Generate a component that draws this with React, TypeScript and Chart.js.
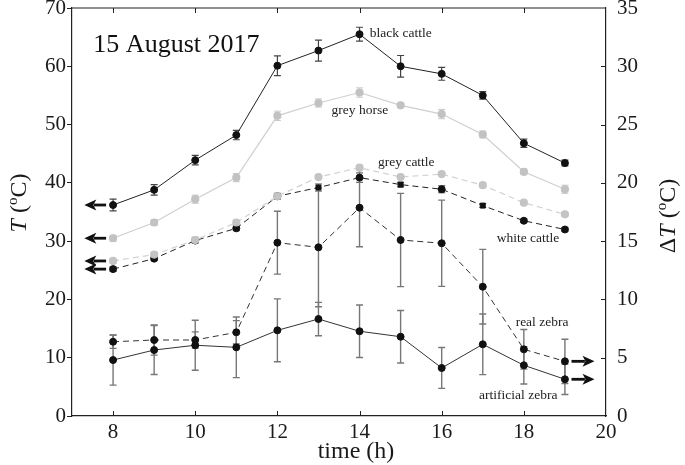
import React, { useEffect, useRef } from 'react';
import { Chart, registerables } from 'chart.js';

Chart.register(...registerables);

// ---- data ----
const hours = [8, 9, 10, 11, 12, 13, 14, 15, 16, 17, 18, 19];

const blackCattle = [36.2, 38.8, 43.9, 48.2, 60.1, 62.7, 65.5, 60.0, 58.7, 55.0, 46.8, 43.4];
const blackCattleErr = [1.0, 0.9, 0.8, 0.8, 1.7, 1.8, 1.2, 1.85, 1.1, 0.65, 0.7, 0.5];

const greyHorse = [30.5, 33.2, 37.2, 40.9, 51.5, 53.7, 55.5, 53.3, 51.8, 48.3, 41.9, 38.9];
const greyHorseErr = [0.5, 0.5, 0.7, 0.7, 0.8, 0.7, 0.8, 0.4, 0.8, 0.6, 0.5, 0.7];

const greyCattle = [26.6, 27.7, 30.2, 33.2, 37.7, 41.0, 42.6, 41.0, 41.5, 39.6, 36.6, 34.6];
const greyCattleErr = [0.4, 0.4, 0.5, 0.4, 0.5, 0.3, 0.4, 0.3, 0.3, 0.3, 0.3, 0.3];

const whiteCattle = [25.2, 27.0, 30.1, 32.2, 37.7, 39.2, 40.9, 39.7, 38.9, 36.1, 33.5, 32.0];
const whiteCattleErr = [0.4, 0.3, 0.4, 0.4, 0.5, 0.6, 0.8, 0.4, 0.6, 0.3, 0.3, 0.3];

// zebra series are read on the right axis (ΔT)
const realZebra = [6.37, 6.52, 6.52, 7.18, 14.87, 14.47, 17.87, 15.1, 14.82, 11.09, 5.72, 4.69];
const realZebraErr = [0.57, 1.3, 0.7, 1.0, 2.7, 5.1, 3.35, 4.0, 3.7, 3.2, 1.7, 1.9];

const artZebra = [4.8, 5.66, 6.07, 5.89, 7.35, 8.32, 7.27, 6.8, 4.12, 6.15, 4.35, 3.15];
const artZebraErr = [2.15, 2.1, 2.15, 2.6, 2.7, 1.43, 2.25, 2.25, 1.75, 2.6, 1.6, 1.3];

const xTicks = [8, 10, 12, 14, 16, 18, 20];
const innerXTicks = [8, 10, 12, 14, 16, 18];
const rightInnerTicks = [5, 10, 15, 20, 25, 30];

// ---- annotation layout (not data) ----
const FONT = '"Liberation Serif", "DejaVu Serif", serif';
const whiteCattleShapes = ['circle', 'circle', 'circle', 'circle', 'circle', 'rect', 'circle', 'rect', 'circle', 'rect', 'circle', 'circle'];

const seriesLabels = [
  { text: 'black cattle', x: 14.25, y: 65.7, axis: 'y' },
  { text: 'grey horse', x: 13.32, y: 52.5, axis: 'y' },
  { text: 'grey cattle', x: 14.45, y: 43.45, axis: 'y' },
  { text: 'white cattle', x: 17.34, y: 30.5, axis: 'y' },
  { text: 'real zebra', x: 17.8, y: 8.05, axis: 'y2' },
  { text: 'artificial zebra', x: 16.91, y: 1.75, axis: 'y2' },
];

const toPts = (vals: number[]) => vals.map((v, i) => ({ x: hours[i], y: v }));

type Part = { text: string; italic?: boolean; sup?: boolean };

function drawRich(ctx: CanvasRenderingContext2D, parts: Part[], size: number, cx: number, cy: number, rot: number) {
  ctx.save();
  ctx.translate(cx, cy);
  ctx.rotate(rot);
  ctx.fillStyle = '#1a1a1a';
  ctx.textBaseline = 'alphabetic';
  ctx.textAlign = 'left';
  const fontFor = (p: Part) => `${p.italic ? 'italic ' : ''}${p.sup ? Math.round(size * 0.62) : size}px ${FONT}`;
  let total = 0;
  const widths = parts.map((p) => {
    ctx.font = fontFor(p);
    const w = ctx.measureText(p.text).width;
    total += w;
    return w;
  });
  let x = -total / 2;
  const base = size * 0.33;
  parts.forEach((p, i) => {
    ctx.font = fontFor(p);
    ctx.fillText(p.text, x, p.sup ? base - size * 0.38 : base);
    x += widths[i];
  });
  ctx.restore();
}

const errorBarsPlugin = {
  id: 'errorBars',
  beforeDatasetsDraw(chart: any) {
    const ctx = chart.ctx as CanvasRenderingContext2D;
    const xs = chart.scales.x;
    chart.data.datasets.forEach((ds: any) => {
      const errs: number[] | undefined = ds.errors;
      if (!errs) return;
      const ys = chart.scales[ds.yAxisID || 'y'];
      ctx.save();
      ctx.strokeStyle = ds.errorColor;
      ctx.lineWidth = ds.errorWidth;
      ctx.setLineDash([]);
      const cap = 3.5;
      ds.data.forEach((p: any, j: number) => {
        const px = xs.getPixelForValue(p.x);
        const y1 = ys.getPixelForValue(p.y + errs[j]);
        const y2 = ys.getPixelForValue(p.y - errs[j]);
        ctx.beginPath();
        ctx.moveTo(px, y1);
        ctx.lineTo(px, y2);
        ctx.moveTo(px - cap, y1);
        ctx.lineTo(px + cap, y1);
        ctx.moveTo(px - cap, y2);
        ctx.lineTo(px + cap, y2);
        ctx.stroke();
      });
      ctx.restore();
    });
  },
};

const decorPlugin = {
  id: 'decor',
  afterDraw(chart: any) {
    const ctx = chart.ctx as CanvasRenderingContext2D;
    const { left, right, top, bottom } = chart.chartArea;
    const xs = chart.scales.x;
    const ys = chart.scales.y;
    const y2s = chart.scales.y2;
    ctx.save();
    ctx.strokeStyle = '#222';
    ctx.lineWidth = 1.2;
    ctx.setLineDash([]);
    // top frame
    ctx.beginPath();
    ctx.moveTo(left, top);
    ctx.lineTo(right, top);
    ctx.stroke();
    // inward ticks top & bottom
    ctx.lineWidth = 1;
    ctx.beginPath();
    innerXTicks.forEach((v) => {
      const px = Math.round(xs.getPixelForValue(v)) + 0.5;
      ctx.moveTo(px, top);
      ctx.lineTo(px, top + 5);
      ctx.moveTo(px, bottom);
      ctx.lineTo(px, bottom - 5);
    });
    rightInnerTicks.forEach((v) => {
      const py = Math.round(y2s.getPixelForValue(v)) + 0.5;
      ctx.moveTo(right, py);
      ctx.lineTo(right - 5, py);
    });
    ctx.stroke();

    // arrows
    const arrow = (x0: number, x1: number, y: number) => {
      const dir = Math.sign(x1 - x0);
      const head = 12;
      ctx.strokeStyle = '#111';
      ctx.fillStyle = '#111';
      ctx.lineWidth = 2.8;
      ctx.beginPath();
      ctx.moveTo(x0, y);
      ctx.lineTo(x1 - dir * head * 0.8, y);
      ctx.stroke();
      ctx.beginPath();
      ctx.moveTo(x1, y);
      ctx.lineTo(x1 - dir * head, y - 5.5);
      ctx.lineTo(x1 - dir * head * 0.75, y);
      ctx.lineTo(x1 - dir * head, y + 5.5);
      ctx.closePath();
      ctx.fill();
    };
    const lx0 = xs.getPixelForValue(7.83);
    const lx1 = xs.getPixelForValue(7.3);
    [blackCattle, greyHorse, greyCattle, whiteCattle].forEach((s) => arrow(lx0, lx1, ys.getPixelForValue(s[0])));
    const rx0 = xs.getPixelForValue(19.16);
    const rx1 = xs.getPixelForValue(19.72);
    [realZebra, artZebra].forEach((s) => arrow(rx0, rx1, y2s.getPixelForValue(s[s.length - 1])));

    // series labels
    ctx.fillStyle = '#222';
    ctx.font = `13.5px ${FONT}`;
    ctx.textAlign = 'left';
    ctx.textBaseline = 'middle';
    seriesLabels.forEach((l) => {
      const sc = chart.scales[l.axis];
      ctx.fillText(l.text, xs.getPixelForValue(l.x), sc.getPixelForValue(l.y));
    });

    // panel title
    ctx.font = `26px ${FONT}`;
    ctx.textBaseline = 'alphabetic';
    ctx.fillStyle = '#111';
    ctx.fillText('15 August 2017', xs.getPixelForValue(7.52), ys.getPixelForValue(62.5));

    // axis titles
    drawRich(ctx, [{ text: 'T', italic: true }, { text: ' (' }, { text: 'o', sup: true }, { text: 'C)' }], 24, 18, 203, -Math.PI / 2);
    drawRich(ctx, [{ text: 'Δ' }, { text: 'T', italic: true }, { text: ' (' }, { text: 'o', sup: true }, { text: 'C)' }], 24, 667, 216, -Math.PI / 2);
    drawRich(ctx, [{ text: 'time (h)' }], 24, 356, 450, 0);
    ctx.restore();
  },
};

export default function App() {
  const ref = useRef<HTMLCanvasElement | null>(null);
  useEffect(() => {
    if (!ref.current) return;
    const tickFont = { family: FONT, size: 21 };
    const chart = new Chart(ref.current, {
      type: 'line',
      data: {
        datasets: [
          {
            label: 'grey cattle',
            data: toPts(greyCattle),
            yAxisID: 'y',
            borderColor: '#d2d2d2',
            borderWidth: 1.2,
            borderDash: [6, 4],
            pointBackgroundColor: '#c4c4c4',
            pointBorderColor: '#c4c4c4',
            pointRadius: 3.5,
            errors: greyCattleErr,
            errorColor: '#c8c8c8',
            errorWidth: 1,
          } as any,
          {
            label: 'grey horse',
            data: toPts(greyHorse),
            yAxisID: 'y',
            borderColor: '#cfcfcf',
            borderWidth: 1.2,
            pointBackgroundColor: '#c2c2c2',
            pointBorderColor: '#c2c2c2',
            pointRadius: 3.5,
            errors: greyHorseErr,
            errorColor: '#c8c8c8',
            errorWidth: 1,
          } as any,
          {
            label: 'white cattle',
            data: toPts(whiteCattle),
            yAxisID: 'y',
            borderColor: '#222',
            borderWidth: 1,
            borderDash: [6, 4],
            pointBackgroundColor: '#111',
            pointBorderColor: '#111',
            pointStyle: whiteCattleShapes,
            pointRadius: 3.5,
            errors: whiteCattleErr,
            errorColor: '#444',
            errorWidth: 1,
          } as any,
          {
            label: 'black cattle',
            data: toPts(blackCattle),
            yAxisID: 'y',
            borderColor: '#222',
            borderWidth: 1,
            pointBackgroundColor: '#111',
            pointBorderColor: '#111',
            pointRadius: 3.5,
            errors: blackCattleErr,
            errorColor: '#444',
            errorWidth: 1.2,
          } as any,
          {
            label: 'real zebra',
            data: toPts(realZebra),
            yAxisID: 'y2',
            borderColor: '#333',
            borderWidth: 1,
            borderDash: [6, 4],
            pointBackgroundColor: '#111',
            pointBorderColor: '#111',
            pointRadius: 3.5,
            errors: realZebraErr,
            errorColor: '#777',
            errorWidth: 1.4,
          } as any,
          {
            label: 'artificial zebra',
            data: toPts(artZebra),
            yAxisID: 'y2',
            borderColor: '#333',
            borderWidth: 1,
            pointBackgroundColor: '#111',
            pointBorderColor: '#111',
            pointRadius: 3.5,
            errors: artZebraErr,
            errorColor: '#777',
            errorWidth: 1.4,
          } as any,
        ],
      },
      options: {
        responsive: false,
        animation: false,
        layout: { padding: { top: 8, left: 0, right: 0, bottom: 0 } },
        plugins: { legend: { display: false }, tooltip: { enabled: false }, title: { display: false } },
        elements: { line: { tension: 0 } },
        scales: {
          x: {
            type: 'linear',
            position: 'bottom',
            min: 7,
            max: 20,
            grid: { display: false, drawTicks: false, tickLength: 0 },
            border: { display: true, color: '#222', width: 1.2 },
            ticks: { font: tickFont, color: '#1a1a1a', padding: 4, autoSkip: false, maxRotation: 0 },
            afterBuildTicks: (s: any) => {
              s.ticks = xTicks.map((v) => ({ value: v }));
            },
            afterFit: (s: any) => {
              s.height = 49;
              s.paddingLeft = 0;
              s.paddingRight = 0;
            },
          },
          y: {
            type: 'linear',
            position: 'left',
            min: 0,
            max: 70,
            grid: { display: true, drawOnChartArea: false, drawTicks: true, tickLength: 5, color: '#222' },
            border: { display: true, color: '#222', width: 1.2 },
            ticks: { stepSize: 10, font: tickFont, color: '#1a1a1a', padding: 1 },
            afterFit: (s: any) => {
              s.width = 72;
              s.paddingTop = 0;
              s.paddingBottom = 0;
            },
          },
          y2: {
            type: 'linear',
            position: 'right',
            min: 0,
            max: 35,
            grid: { display: false, drawTicks: false, tickLength: 0 },
            border: { display: true, color: '#222', width: 1.2 },
            ticks: { stepSize: 5, font: tickFont, color: '#1a1a1a', padding: 11 },
            afterFit: (s: any) => {
              s.width = 79;
              s.paddingTop = 0;
              s.paddingBottom = 0;
            },
          },
        },
      } as any,
      plugins: [errorBarsPlugin, decorPlugin],
    });
    return () => chart.destroy();
  }, []);
  return (
    <div style={{ position: 'absolute', left: 0, top: 0, width: 685, height: 465, background: '#fff' }}>
      <canvas ref={ref} width={685} height={465} style={{ display: 'block' }} />
    </div>
  );
}
